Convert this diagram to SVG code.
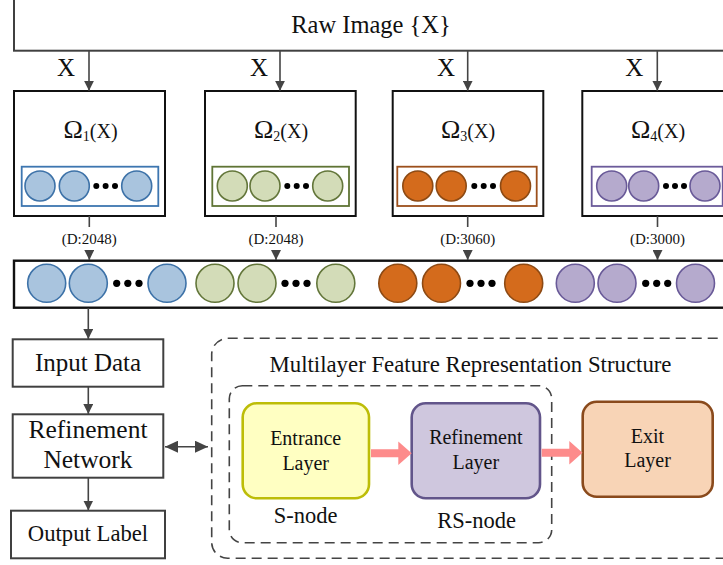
<svg xmlns="http://www.w3.org/2000/svg" width="723" height="565" viewBox="0 0 723 565">
  <style>
    text { font-family: "Liberation Serif", "Times New Roman", serif; fill: #111; }
    .box { fill: #fff; stroke: #404040; stroke-width: 2; }
    .obox { fill: #fff; stroke: #111; stroke-width: 2; }
    .link { fill: none; stroke: #444; stroke-width: 1.6; }
    .dash { fill: none; stroke: #444; stroke-width: 1.6; stroke-dasharray: 10 6; }
    .dot { fill: #000; }
    .blue { fill: #a9c4de; stroke: #3d72a8; stroke-width: 1.6; }
    .green { fill: #d3dcb8; stroke: #63763a; stroke-width: 1.6; }
    .orange { fill: #d46b1c; stroke: #8d4a14; stroke-width: 1.6; }
    .purple { fill: #b5aacd; stroke: #695a98; stroke-width: 1.6; }
    .pink { fill: #fd8b8b; }
    .big { font-size: 24.5px; }
    .om { font-size: 26px; }
    .dim { font-size: 15px; }
    .lyr { font-size: 20px; }
  </style>
  <defs>
    <marker id="ah" viewBox="0 0 10 10" refX="10" refY="5" markerWidth="10" markerHeight="10" markerUnits="userSpaceOnUse" orient="auto-start-reverse">
      <path d="M0,0 L10,5 L0,10 z" fill="#444"/>
    </marker>
    <marker id="ahb" viewBox="0 0 13 12" refX="13" refY="6" markerWidth="13" markerHeight="12" markerUnits="userSpaceOnUse" orient="auto-start-reverse">
      <path d="M0,0 L13,6 L0,12 z" fill="#444"/>
    </marker>
  </defs>

  <!-- source image -->
  <g id="raw-image">
    <rect class="box" x="14" y="-1" width="720" height="51.7"/>
    <text class="big" x="371" y="33" text-anchor="middle">Raw Image {X}</text>
  </g>

  <!-- four feature extractors -->
  <g id="omega1">
    <rect class="obox" x="14" y="91" width="151" height="125"/>
    <text class="om" x="90.5" y="138" text-anchor="middle">Ω<tspan font-size="14" dy="3">1</tspan><tspan font-size="20" dy="-3">(X)</tspan></text>
    <rect x="21.7" y="166.7" width="136.6" height="39.3" fill="none" stroke="#3d76b0" stroke-width="1.8"/>
    <circle class="blue" cx="40" cy="186" r="15"/>
    <circle class="blue" cx="74.3" cy="186" r="15"/>
    <circle class="dot" cx="96.3" cy="186" r="3"/>
    <circle class="dot" cx="105.6" cy="186" r="3"/>
    <circle class="dot" cx="115" cy="186" r="3"/>
    <circle class="blue" cx="136.7" cy="186" r="15"/>
  </g>
  <g id="omega2">
    <rect class="obox" x="205" y="91" width="150.7" height="125"/>
    <text class="om" x="281" y="138" text-anchor="middle">Ω<tspan font-size="14" dy="3">2</tspan><tspan font-size="20" dy="-3">(X)</tspan></text>
    <rect x="212.3" y="166.7" width="136.7" height="39.3" fill="none" stroke="#5f7435" stroke-width="1.8"/>
    <circle class="green" cx="232.3" cy="186" r="15"/>
    <circle class="green" cx="265" cy="186" r="15"/>
    <circle class="dot" cx="287.3" cy="186" r="3"/>
    <circle class="dot" cx="296.7" cy="186" r="3"/>
    <circle class="dot" cx="306" cy="186" r="3"/>
    <circle class="green" cx="327.7" cy="186" r="15"/>
  </g>
  <g id="omega3">
    <rect class="obox" x="392.7" y="91" width="150.6" height="125"/>
    <text class="om" x="468" y="138" text-anchor="middle">Ω<tspan font-size="14" dy="3">3</tspan><tspan font-size="20" dy="-3">(X)</tspan></text>
    <rect x="397.3" y="166.7" width="139.4" height="39.3" fill="none" stroke="#9c4f1b" stroke-width="1.8"/>
    <circle class="orange" cx="417.8" cy="186" r="15"/>
    <circle class="orange" cx="451.2" cy="186" r="15"/>
    <circle class="dot" cx="474.3" cy="186" r="3"/>
    <circle class="dot" cx="483.7" cy="186" r="3"/>
    <circle class="dot" cx="493" cy="186" r="3"/>
    <circle class="orange" cx="515.5" cy="186" r="15"/>
  </g>
  <g id="omega4">
    <rect class="obox" x="582.3" y="91" width="151" height="125"/>
    <text class="om" x="658" y="138" text-anchor="middle">Ω<tspan font-size="14" dy="3">4</tspan><tspan font-size="20" dy="-3">(X)</tspan></text>
    <rect x="591.7" y="166.7" width="131" height="39.3" fill="none" stroke="#6b5b9a" stroke-width="1.8"/>
    <circle class="purple" cx="611.7" cy="186" r="15"/>
    <circle class="purple" cx="643.7" cy="186" r="15"/>
    <circle class="dot" cx="666" cy="186" r="3"/>
    <circle class="dot" cx="675" cy="186" r="3"/>
    <circle class="dot" cx="684" cy="186" r="3"/>
    <circle class="purple" cx="705" cy="186" r="15"/>
  </g>

  <!-- concatenated feature vector -->
  <g id="feature-row">
    <rect x="14" y="260.7" width="720" height="47" fill="#fff" stroke="#111" stroke-width="2.4"/>
    <circle class="blue" cx="46.7" cy="283.3" r="19"/>
    <circle class="blue" cx="88.3" cy="283.3" r="19"/>
    <circle class="dot" cx="116.7" cy="283.3" r="3.6"/>
    <circle class="dot" cx="127.8" cy="283.3" r="3.6"/>
    <circle class="dot" cx="139" cy="283.3" r="3.6"/>
    <circle class="blue" cx="167" cy="283.3" r="19"/>
    <circle class="green" cx="215" cy="283.3" r="19"/>
    <circle class="green" cx="257" cy="283.3" r="19"/>
    <circle class="dot" cx="285" cy="283.3" r="3.6"/>
    <circle class="dot" cx="296" cy="283.3" r="3.6"/>
    <circle class="dot" cx="307" cy="283.3" r="3.6"/>
    <circle class="green" cx="335.8" cy="283.3" r="19"/>
    <circle class="orange" cx="397.8" cy="283.3" r="19"/>
    <circle class="orange" cx="441.5" cy="283.3" r="19"/>
    <circle class="dot" cx="470" cy="283.3" r="3.6"/>
    <circle class="dot" cx="481" cy="283.3" r="3.6"/>
    <circle class="dot" cx="492" cy="283.3" r="3.6"/>
    <circle class="orange" cx="523.7" cy="283.3" r="19"/>
    <circle class="purple" cx="575.3" cy="283.3" r="19"/>
    <circle class="purple" cx="617" cy="283.3" r="19"/>
    <circle class="dot" cx="645.7" cy="283.3" r="3.6"/>
    <circle class="dot" cx="656.7" cy="283.3" r="3.6"/>
    <circle class="dot" cx="667.7" cy="283.3" r="3.6"/>
    <circle class="purple" cx="695.5" cy="283.3" r="19"/>
  </g>

  <!-- classifier pipeline -->
  <g id="input-data">
    <rect class="box" x="12.7" y="339.3" width="150.6" height="47.4"/>
    <text x="88" y="370.7" text-anchor="middle" font-size="25">Input Data</text>
  </g>
  <g id="refinement-network">
    <rect class="box" x="12.7" y="414.3" width="150.6" height="63.4"/>
    <text x="88" y="438.3" text-anchor="middle" font-size="25.5">Refinement</text>
    <text x="88" y="468.3" text-anchor="middle" font-size="25.5">Network</text>
  </g>
  <g id="output-label">
    <rect class="box" x="11" y="510.7" width="154" height="47.6"/>
    <text x="88" y="540.7" text-anchor="middle" font-size="22.7">Output Label</text>
  </g>

  <!-- multilayer structure -->
  <g id="multilayer-structure">
    <rect class="dash" x="211.7" y="338.3" width="530" height="220" rx="16"/>
    <text x="470.5" y="371.7" text-anchor="middle" font-size="22.8">Multilayer Feature Representation Structure</text>
  </g>
  <g id="rs-node-group">
    <rect class="dash" x="229.3" y="385.7" width="322.4" height="157" rx="13"/>
    <text x="305.7" y="523.3" text-anchor="middle" font-size="22.5">S-node</text>
    <text x="476.7" y="528.3" text-anchor="middle" font-size="22.5">RS-node</text>
  </g>
  <g id="entrance-layer">
    <rect x="242.7" y="403.3" width="126.3" height="95" rx="14" fill="#ffffc2" stroke="#bdbd08" stroke-width="2.6"/>
    <text class="lyr" x="305.7" y="445" text-anchor="middle">Entrance</text>
    <text class="lyr" x="305.7" y="470" text-anchor="middle">Layer</text>
  </g>
  <g id="refinement-layer">
    <rect x="411.7" y="403.3" width="128.3" height="95" rx="14" fill="#cfc7de" stroke="#62558a" stroke-width="2.6"/>
    <text class="lyr" x="475.8" y="444" text-anchor="middle">Refinement</text>
    <text class="lyr" x="475.8" y="469" text-anchor="middle">Layer</text>
  </g>
  <g id="exit-layer">
    <rect x="582.7" y="401.7" width="130" height="95" rx="14" fill="#f8d4b6" stroke="#8a4a1c" stroke-width="2.6"/>
    <text class="lyr" x="647.5" y="443.3" text-anchor="middle">Exit</text>
    <text class="lyr" x="647.5" y="467.3" text-anchor="middle">Layer</text>
  </g>

  <!-- connectors -->
  <g id="connectors">
    <line class="link" x1="89" y1="50.7" x2="89" y2="90.7" marker-end="url(#ah)"/>
    <line class="link" x1="280" y1="50.7" x2="280" y2="90.7" marker-end="url(#ah)"/>
    <line class="link" x1="467.7" y1="50.7" x2="467.7" y2="90.7" marker-end="url(#ah)"/>
    <line class="link" x1="657.3" y1="50.7" x2="657.3" y2="90.7" marker-end="url(#ah)"/>
    <text x="66" y="75.7" text-anchor="middle" font-size="25">X</text>
    <text x="259" y="75.7" text-anchor="middle" font-size="25">X</text>
    <text x="446" y="75.7" text-anchor="middle" font-size="25">X</text>
    <text x="634.2" y="75.7" text-anchor="middle" font-size="25">X</text>

    <line class="link" x1="89.3" y1="216" x2="89.3" y2="227"/>
    <line class="link" x1="89.3" y1="250" x2="89.3" y2="260" marker-end="url(#ah)"/>
    <line class="link" x1="276" y1="216" x2="276" y2="227"/>
    <line class="link" x1="276" y1="250" x2="276" y2="260" marker-end="url(#ah)"/>
    <line class="link" x1="467.7" y1="216" x2="467.7" y2="227"/>
    <line class="link" x1="467.7" y1="250" x2="467.7" y2="260" marker-end="url(#ah)"/>
    <line class="link" x1="657.5" y1="216" x2="657.5" y2="227"/>
    <line class="link" x1="657.5" y1="250" x2="657.5" y2="260" marker-end="url(#ah)"/>
    <text class="dim" x="89.3" y="244" text-anchor="middle">(D:2048)</text>
    <text class="dim" x="276" y="244" text-anchor="middle">(D:2048)</text>
    <text class="dim" x="467.7" y="244" text-anchor="middle">(D:3060)</text>
    <text class="dim" x="657.5" y="244" text-anchor="middle">(D:3000)</text>

    <line class="link" x1="88.3" y1="308" x2="88.3" y2="339" marker-end="url(#ah)"/>
    <line class="link" x1="88.3" y1="387" x2="88.3" y2="414" marker-end="url(#ah)"/>
    <line class="link" x1="88.3" y1="478" x2="88.3" y2="510.5" marker-end="url(#ah)"/>
    <line class="link" x1="165" y1="446.7" x2="208" y2="446.7" marker-start="url(#ahb)" marker-end="url(#ahb)"/>

    <polygon class="pink" points="371,449.3 398.3,449.3 398.3,441.5 411.7,453.3 398.3,465 398.3,457.3 371,457.3"/>
    <polygon class="pink" points="541.7,448.7 569.3,448.7 569.3,441 582.5,452.7 569.3,464.5 569.3,456.7 541.7,456.7"/>
  </g>
</svg>
